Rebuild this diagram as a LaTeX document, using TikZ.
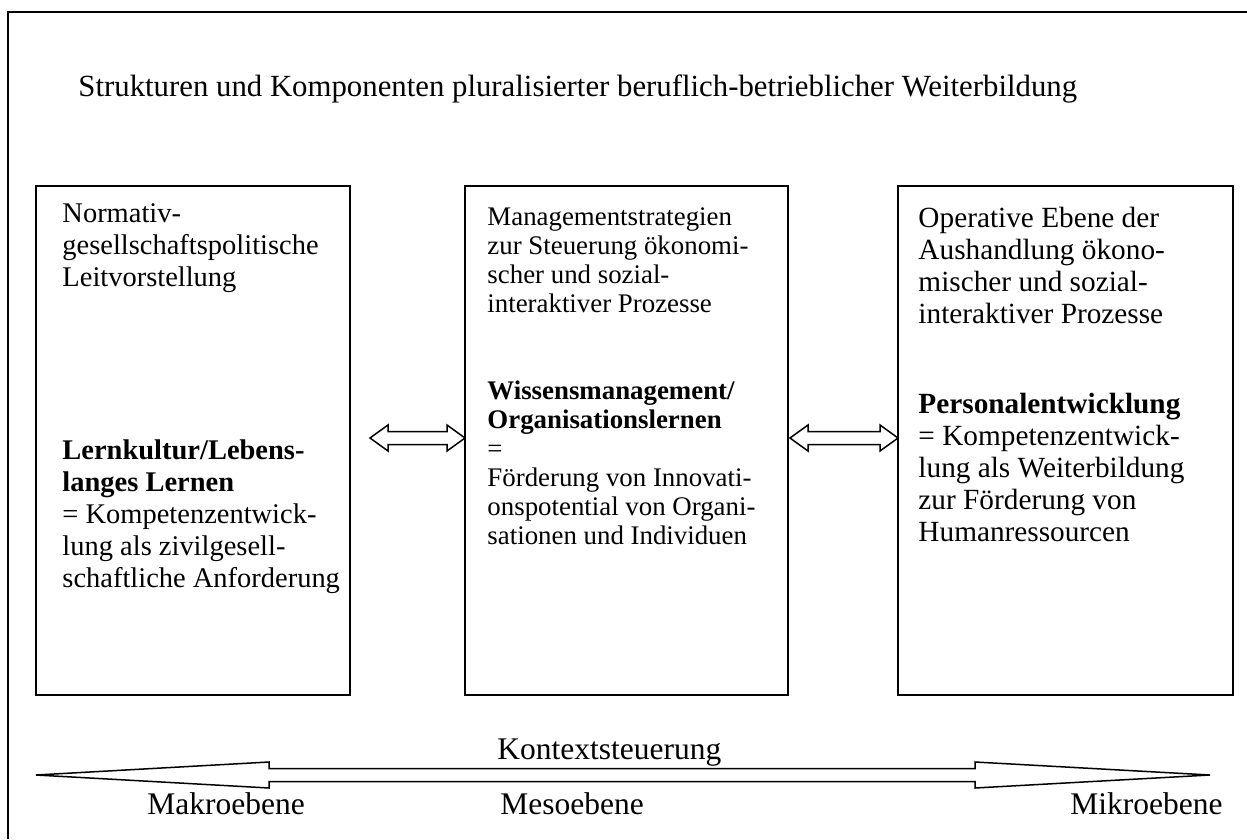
\documentclass[tikz,border=0pt]{standalone}
\usepackage{fontspec}
\setmainfont{Liberation Serif}
\usetikzlibrary{calc}
\begin{document}
\begin{tikzpicture}[x=0.432pt,y=-0.432pt,
  frame/.style={line width=0.9pt},
  box/.style={draw,line width=0.65pt},
  arrowshape/.style={draw,line width=0.65pt,fill=white,line join=miter},
  txt/.style={inner sep=0pt,anchor=base west,font=\fontsize{12.65}{13.93}\selectfont},
  txtleft/.style={inner sep=0pt,anchor=base west,font=\fontsize{12.3}{13.93}\selectfont},
  txtsmall/.style={inner sep=0pt,anchor=base west,font=\fontsize{11.6}{12.53}\selectfont},
  txtbig/.style={inner sep=0pt,anchor=base west,font=\fontsize{13.3}{15}\selectfont},
  label/.style={inner sep=0pt,anchor=base west,font=\fontsize{13.6}{15}\selectfont}]
\useasboundingbox (0,0) rectangle (1247,839);

% outer frame (top and left edges)
\draw[frame] (8,839) -- (8,12) -- (1247,12);

% title
\node[txtbig] (title) at (78,96) {Strukturen und Komponenten pluralisierter beruflich-betrieblicher Weiterbildung};

% the three level boxes
\draw[box] (36,186) rectangle (350,695);
\draw[box] (465,186) rectangle (788,695);
\draw[box] (898,186) rectangle (1233,695);
\coordinate (lboxE) at (350,438);
\coordinate (mboxW) at (465,438);
\coordinate (mboxE) at (788,438);
\coordinate (rboxW) at (898,438);

% left box
\node[txtleft] (la) at (62,222) {\begin{tabular}[t]{@{}l@{}}Normativ-\\gesellschaftspolitische\\Leitvorstellung\end{tabular}};
\node[txtleft] (lb) at (62,459) {\begin{tabular}[t]{@{}l@{}}\textbf{Lernkultur/Lebens-}\\\textbf{langes Lernen}\\= Kompetenzentwick-\\lung als zivilgesell-\\schaftliche Anforderung\end{tabular}};

% middle box
\node[txtsmall] (ma) at (487,225) {\begin{tabular}[t]{@{}l@{}}Managementstrategien\\zur Steuerung ökonomi-\\scher und sozial-\\interaktiver Prozesse\end{tabular}};
\node[txtsmall] (mb) at (487,399) {\begin{tabular}[t]{@{}l@{}}\textbf{Wissensmanagement/}\\\textbf{Organisationslernen}\\=\\Förderung von Innovati-\\onspotential von Organi-\\sationen und Individuen\end{tabular}};

% right box
\node[txt] (ra) at (918,227) {\begin{tabular}[t]{@{}l@{}}Operative Ebene der\\Aushandlung ökono-\\mischer und sozial-\\interaktiver Prozesse\end{tabular}};
\node[txt] (rb) at (918,413) {\begin{tabular}[t]{@{}l@{}}\textbf{Personalentwicklung}\\= Kompetenzentwick-\\lung als Weiterbildung\\zur Förderung von\\Humanressourcen\end{tabular}};

% double arrows between the boxes
\draw[arrowshape] ($(lboxE)+(20,0)$) -- ++(18,-13) -- ++(0,6.5)
  -- ($(mboxW)+(-18,-6.5)$) -- ++(0,-6.5) -- (mboxW) -- ++(-18,13) -- ++(0,-6.5)
  -- ($(lboxE)+(38,6.5)$) -- ++(0,6.5) -- cycle;
\draw[arrowshape] ($(mboxE)+(2,0)$) -- ++(18,-13) -- ++(0,6.5)
  -- ($(rboxW)+(-18,-6.5)$) -- ++(0,-6.5) -- (rboxW) -- ++(-18,13) -- ++(0,-6.5)
  -- ($(mboxE)+(20,6.5)$) -- ++(0,6.5) -- cycle;

% context steering
\node[label] (ctx) at (497,759) {Kontextsteuerung};

% long double arrow across the levels
\coordinate (macro) at (36,775);
\coordinate (micro) at (1210,775);
\draw[arrowshape] (macro) -- ++(233,-13) -- ++(0,6.5) -- ($(micro)+(-235,-6.5)$) -- ++(0,-6.5)
  -- (micro) -- ++(-235,13) -- ++(0,-6.5) -- ($(macro)+(233,6.5)$) -- ++(0,6.5) -- cycle;

% level labels
\node[label] (mak) at (147,814) {Makroebene};
\node[label] (mes) at (500,814) {Mesoebene};
\node[label] (mik) at (1070,814) {Mikroebene};
\end{tikzpicture}
\end{document}
